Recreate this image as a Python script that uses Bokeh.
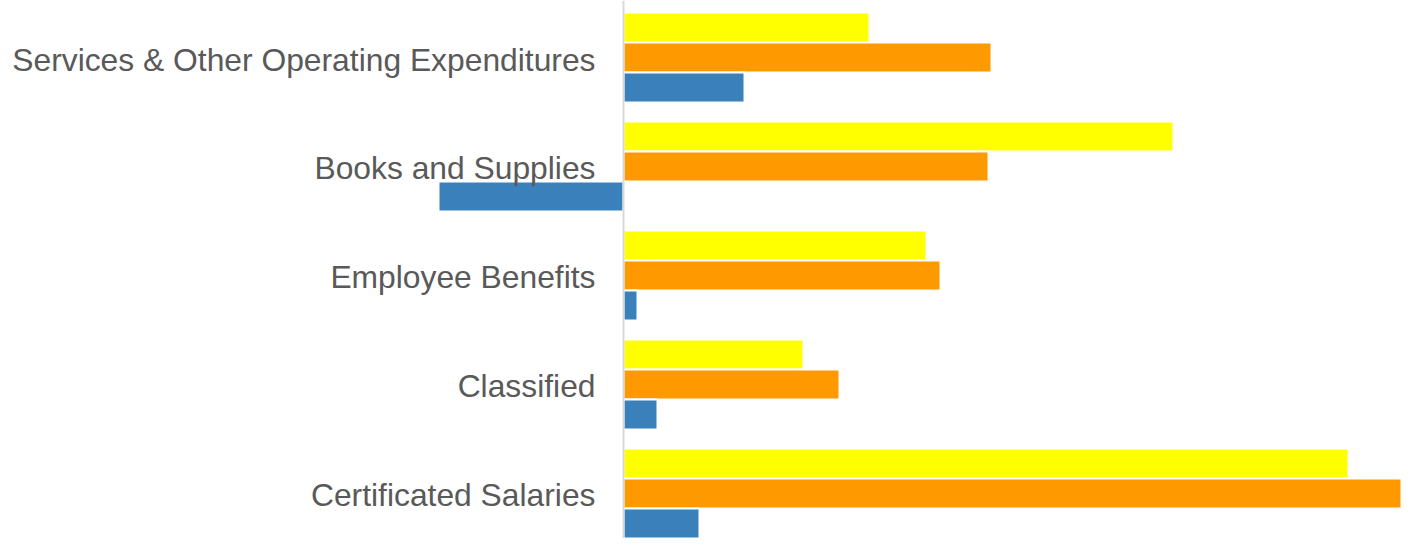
from bokeh.plotting import figure
from bokeh.models import ColumnDataSource, Range1d, Span
from bokeh.transform import dodge
from bokeh.core.properties import value
from bokeh.embed import file_html
from bokeh.resources import INLINE

# Categories listed bottom to top
categories = ["Certificated Salaries", "Classified", "Employee Benefits",
              "Books and Supplies", "Services & Other Operating Expenditures"]
series_yellow = [725, 180, 303, 550, 246]
series_orange = [820, 216, 317, 365, 368]
series_blue = [76, 34, 14, -185, 121]

positions = list(range(len(categories)))
src = ColumnDataSource(dict(y=positions, cat=categories,
                            yellow=series_yellow, orange=series_orange, blue=series_blue,
                            zero=[0] * len(categories)))

p = figure(width=1401, height=538, output_backend="svg", toolbar_location=None,
           x_range=Range1d(-623, 778), y_range=Range1d(-0.413, 4.523),
           min_border=0, min_border_left=0, min_border_right=0,
           min_border_top=0, min_border_bottom=0)

step = 0.2752
h = 0.2752
p.hbar(y=dodge("y", step, range=p.y_range), left=0, right="yellow", height=h, source=src,
       fill_color="#FFFF00", line_color="white", line_width=2)
p.hbar(y="y", left=0, right="orange", height=h, source=src,
       fill_color="#FF9900", line_color="white", line_width=2)
p.hbar(y=dodge("y", -step, range=p.y_range), left=0, right="blue", height=h, source=src,
       fill_color="#3A80BA", line_color="white", line_width=2)

p.add_layout(Span(location=0, dimension="height", line_color="#D9D9D9", line_width=2))

p.text(x="zero", y="y", text="cat", source=src, x_offset=-28, y_offset=2,
       text_align="right", text_baseline="middle",
       text_font=value("Liberation Sans"), text_font_size="31.8px", text_color="#595959")

p.xaxis.visible = False
p.yaxis.visible = False
p.xgrid.visible = False
p.ygrid.visible = False
p.outline_line_color = None

open("out.html", "w").write(file_html(p, INLINE))
